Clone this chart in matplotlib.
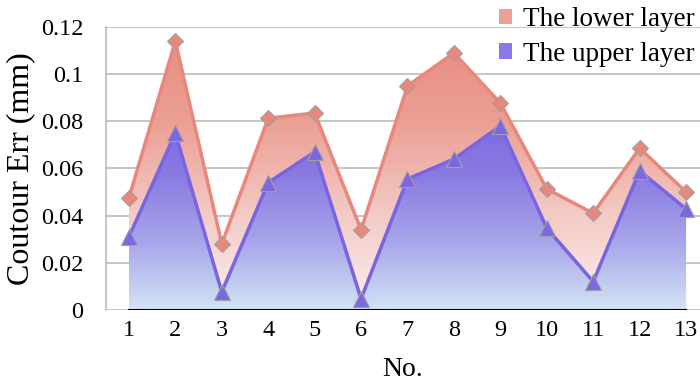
import numpy as np
import matplotlib
matplotlib.use("Agg")
import matplotlib.pyplot as plt
from matplotlib.colors import LinearSegmentedColormap
from matplotlib.patches import Patch

samples = list(range(1, 14))
lower_layer = [0.0475, 0.114, 0.028, 0.0813, 0.0835, 0.034, 0.095, 0.109, 0.0877, 0.0513, 0.041, 0.0686, 0.050]
upper_layer = [0.031, 0.075, 0.0076, 0.054, 0.067, 0.0047, 0.0555, 0.064, 0.078, 0.0347, 0.012, 0.059, 0.0428]
yticks = [0, 0.02, 0.04, 0.06, 0.08, 0.1, 0.12]
ytick_labels = ["0", "0.02", "0.04", "0.06", "0.08", "0.1", "0.12"]

plt.rcParams['font.family'] = ['Liberation Serif', 'DejaVu Serif']

fig = plt.figure(figsize=(7, 3.85), dpi=100)
ax = fig.add_axes([0.151, 0.195, 0.849, 0.735])

red_cmap = LinearSegmentedColormap.from_list("red", ["#FCEFEE", "#F3CBC6", "#EC9F95", "#E98A7F"])
blue_cmap = LinearSegmentedColormap.from_list("blue", ["#D2E4F6", "#A8A6EA", "#8A7BE2", "#7A66DF"])


def gradient_fill(x, y, cmap, top):
    poly = ax.fill_between(x, 0, y, facecolor="none", edgecolor="none")
    grad = np.linspace(0, 1, 256).reshape(-1, 1)
    im = ax.imshow(grad, cmap=cmap, aspect="auto", origin="lower",
                   extent=[x[0], x[-1], 0, top], zorder=2)
    path = poly.get_paths()[0]
    im.set_clip_path(path, transform=ax.transData)


gradient_fill(samples, lower_layer, red_cmap, 0.12)
gradient_fill(samples, upper_layer, blue_cmap, 0.085)

ax.plot(samples, lower_layer, color="#E8887D", lw=2.5, marker="D", ms=8.5,
        mfc="#E8887D", mec="#A0A0A0", mew=0.8, zorder=4)
ax.plot(samples, upper_layer, color="#7B64E0", lw=2.5, marker="^", ms=11,
        mfc="#7B68E0", mec="#A0A0A0", mew=0.8, zorder=4)
ax.plot([samples[0], samples[-1]], [0, 0], color="black", lw=1.5, zorder=5)

ax.set_xlim(0.5, 13.3)
ax.set_ylim(0, 0.12)
ax.set_yticks(yticks)
ax.set_yticklabels(ytick_labels)
ax.set_xticks(samples)
ax.tick_params(length=0, labelsize=17.5)
ax.tick_params(axis="y", pad=16)
ax.tick_params(axis="x", pad=7)
ax.yaxis.grid(True, color="#BBBBBB", lw=1.2)
ax.set_axisbelow(True)
for side in ["top", "right", "bottom"]:
    ax.spines[side].set_visible(False)
ax.spines["left"].set_color("#BBBBBB")
ax.spines["left"].set_linewidth(1.2)

ax.set_xlabel("No.", fontsize=20, labelpad=12)
ax.set_ylabel("Coutour Err (mm)", fontsize=23, labelpad=4)

handles = [Patch(facecolor="#EC9F95", edgecolor="none"),
           Patch(facecolor="#8A7BE2", edgecolor="none")]
fig.legend(handles, ["The lower layer", "The upper layer"], loc="upper right",
           bbox_to_anchor=(1.027, 1.045), frameon=False, fontsize=19.5,
           handlelength=0.5, handleheight=0.5, handletextpad=0.4, labelspacing=0.35)

fig.savefig("out.png", dpi=100)
